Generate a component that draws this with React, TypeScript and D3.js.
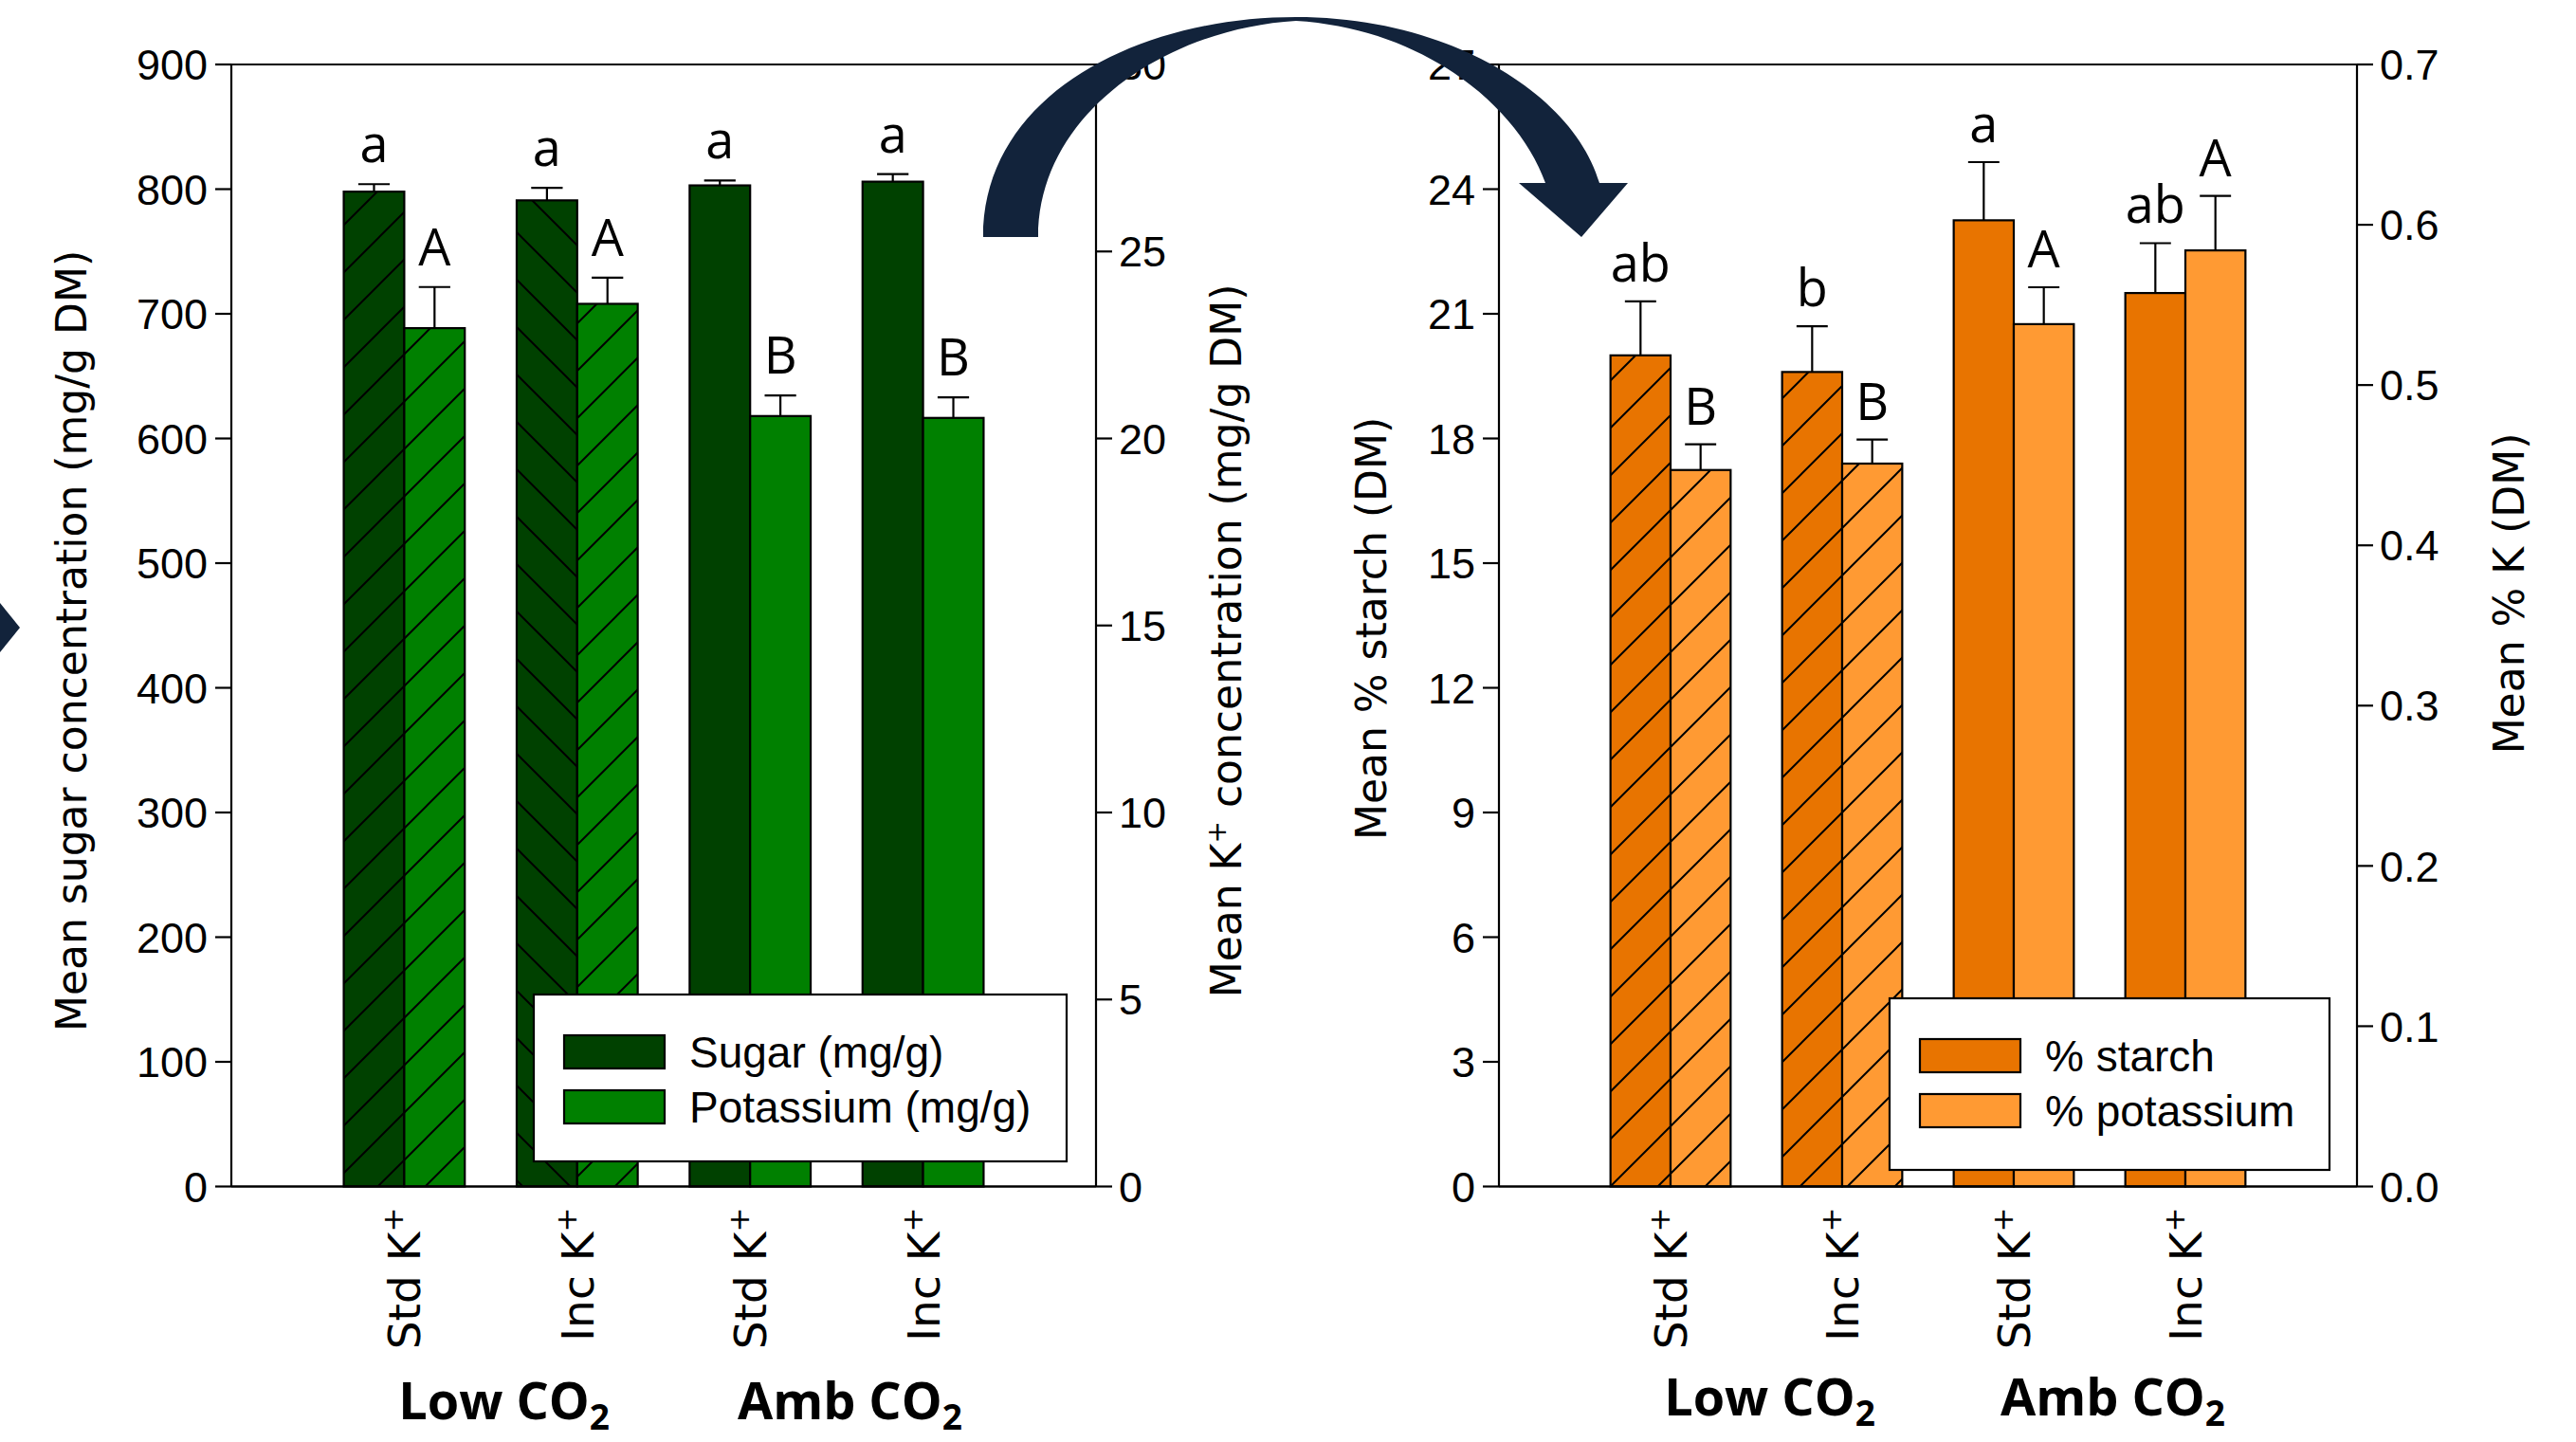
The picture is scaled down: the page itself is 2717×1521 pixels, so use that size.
import * as d3 from "d3";

const W = 2717;
const H = 1521;

const treatments = ["Std K", "Inc K", "Std K", "Inc K"];
const co2Levels = ["Low CO", "Amb CO"];

// left panel: sugar (left axis) and potassium mg/g (right axis)
const sugarMg = [798, 791, 803, 806];
const sugarErr = [6, 10, 4, 6];
const sugarLetters = ["a", "a", "a", "a"];
const potassiumMg = [22.95, 23.6, 20.6, 20.55];
const potassiumMgErr = [1.1, 0.7, 0.55, 0.55];
const potassiumMgLetters = ["A", "A", "B", "B"];

// right panel: % starch (left axis) and % K (right axis)
const starchPct = [20.0, 19.6, 23.25, 21.5];
const starchErr = [1.3, 1.1, 1.4, 1.2];
const starchLetters = ["ab", "b", "a", "ab"];
const potassiumPct = [0.447, 0.451, 0.538, 0.584];
const potassiumPctErr = [0.016, 0.015, 0.023, 0.034];
const potassiumPctLetters = ["B", "B", "A", "A"];

const sugarTicks = [0, 100, 200, 300, 400, 500, 600, 700, 800, 900];
const potassiumMgTicks = [0, 5, 10, 15, 20, 25, 30];
const starchTicks = [0, 3, 6, 9, 12, 15, 18, 21, 24, 27];
const potassiumPctTicks = [0, 0.1, 0.2, 0.3, 0.4, 0.5, 0.6, 0.7];

// low CO2 plants are hatched
const sugarHatch = ["fwd", "back", "none", "none"];
const potassiumMgHatch = ["fwd", "fwd", "none", "none"];
const starchHatch = ["fwd", "fwd", "none", "none"];
const potassiumPctHatch = ["fwd", "fwd", "none", "none"];

const ARIAL = "'Liberation Sans', Arial, sans-serif";
const VERDANA = "'DejaVu Sans', Verdana, sans-serif";
const CALIBRI = "'Open Sans', Calibri, sans-serif";
const NAVY = "#12233b";

type Series = {
    values: number[];
    errs: number[];
    letters: string[];
    hatch: string[];
    color: string;
    name: string;
};

type PanelProps = {
    x0: number;
    x1: number;
    yTop: number;
    yBottom: number;
    leftDomain: [number, number];
    rightDomain: [number, number];
    leftTicks: number[];
    rightTicks: number[];
    leftFmt: (d: number) => string;
    rightFmt: (d: number) => string;
    a: Series;
    b: Series;
    letterGap: number;
    leftTitle: React.ReactNode;
    rightTitle: React.ReactNode;
    leftTitlePos: [number, number];
    rightTitlePos: [number, number];
    legendBox: [number, number, number, number];
    groupBaseline: number;
};

const Panel = (p: PanelProps) => {
    const x = d3.scaleLinear().domain([0, 5]).range([p.x0, p.x1]);
    const yL = d3.scaleLinear().domain(p.leftDomain).range([p.yBottom, p.yTop]);
    const yR = d3.scaleLinear().domain(p.rightDomain).range([p.yBottom, p.yTop]);
    const bw = (x(1) - x(0)) * 0.35;
    const capW = bw * 0.52;

    const bars = (s: Series, y: d3.ScaleLinear<number, number>, side: number) =>
        s.values.map((v, i) => {
            const cx = x(i + 1);
            const bx = side === 0 ? cx - bw : cx;
            const top = y(v);
            const errTop = y(v + s.errs[i]);
            const mid = bx + bw / 2;
            return (
                <g key={s.name + i}>
                    <rect x={bx} y={top} width={bw} height={p.yBottom - top} fill={s.color} />
                    {s.hatch[i] !== "none" && (
                        <rect x={bx} y={top} width={bw} height={p.yBottom - top} fill={`url(#hatch-${s.hatch[i]})`} />
                    )}
                    <rect x={bx} y={top} width={bw} height={p.yBottom - top} fill="none" stroke="black" strokeWidth={2.2} />
                    <line x1={mid} x2={mid} y1={top} y2={errTop} stroke="black" strokeWidth={2.2} />
                    <line x1={mid - capW / 2} x2={mid + capW / 2} y1={errTop} y2={errTop} stroke="black" strokeWidth={2.2} />
                    <text x={mid} y={errTop - p.letterGap} textAnchor="middle" fontFamily={CALIBRI} fontSize={54}>
                        {s.letters[i]}
                    </text>
                </g>
            );
        });

    const [lx, ly, lw, lh] = p.legendBox;
    const swX = lx + 32;
    const swW = 106;
    const swH = 35;

    return (
        <g>
            {bars(p.a, yL, 0)}
            {bars(p.b, yR, 1)}

            {/* frame */}
            <line x1={p.x0} x2={p.x1} y1={p.yTop} y2={p.yTop} stroke="black" strokeWidth={2.2} />
            <line x1={p.x0} x2={p.x1} y1={p.yBottom} y2={p.yBottom} stroke="black" strokeWidth={2.5} />
            <line x1={p.x0} x2={p.x0} y1={p.yTop} y2={p.yBottom} stroke="black" strokeWidth={2.2} />
            <line x1={p.x1} x2={p.x1} y1={p.yTop} y2={p.yBottom} stroke="black" strokeWidth={2.2} />

            {p.leftTicks.map((t) => (
                <g key={"l" + t}>
                    <line x1={p.x0 - 17} x2={p.x0} y1={yL(t)} y2={yL(t)} stroke="black" strokeWidth={2.2} />
                    <text x={p.x0 - 25} y={yL(t)} dy="0.36em" textAnchor="end" fontFamily={ARIAL} fontSize={45}>
                        {p.leftFmt(t)}
                    </text>
                </g>
            ))}
            {p.rightTicks.map((t) => (
                <g key={"r" + t}>
                    <line x1={p.x1} x2={p.x1 + 17} y1={yR(t)} y2={yR(t)} stroke="black" strokeWidth={2.2} />
                    <text x={p.x1 + 24} y={yR(t)} dy="0.36em" textAnchor="start" fontFamily={ARIAL} fontSize={45}>
                        {p.rightFmt(t)}
                    </text>
                </g>
            ))}

            {/* rotated treatment labels */}
            {treatments.map((t, i) => (
                <text
                    key={"t" + i}
                    transform={`translate(${x(i + 1)}, ${p.yBottom + 22}) rotate(-90)`}
                    dy="0.36em"
                    textAnchor="end"
                    fontFamily={VERDANA}
                    fontSize={47}
                >
                    {t}
                    <tspan dy={-18} fontSize={31}>+</tspan>
                </text>
            ))}

            {co2Levels.map((c, g) => (
                <text
                    key={"c" + g}
                    x={(x(2 * g + 1) + x(2 * g + 2)) / 2 + 14}
                    y={p.groupBaseline}
                    textAnchor="middle"
                    fontFamily={CALIBRI}
                    fontWeight="bold"
                    fontSize={54}
                >
                    {c}
                    <tspan dy={11} fontSize={37}>2</tspan>
                </text>
            ))}

            <text
                transform={`translate(${p.leftTitlePos[0]}, ${p.leftTitlePos[1]}) rotate(-90)`}
                textAnchor="middle"
                fontFamily={VERDANA}
                fontSize={44}
            >
                {p.leftTitle}
            </text>
            <text
                transform={`translate(${p.rightTitlePos[0]}, ${p.rightTitlePos[1]}) rotate(-90)`}
                textAnchor="middle"
                fontFamily={VERDANA}
                fontSize={44}
            >
                {p.rightTitle}
            </text>

            {/* legend */}
            <rect x={lx} y={ly} width={lw} height={lh} fill="white" stroke="black" strokeWidth={2.2} />
            {[p.a, p.b].map((s, k) => {
                const sy = ly + 43 + k * 58;
                return (
                    <g key={"lg" + k}>
                        <rect x={swX} y={sy} width={swW} height={swH} fill={s.color} stroke="black" strokeWidth={2.2} />
                        <text x={swX + swW + 26} y={sy + swH / 2 + 16} fontFamily={ARIAL} fontSize={46}>
                            {s.name}
                        </text>
                    </g>
                );
            })}
        </g>
    );
};

export default function App() {
    const f0 = d3.format("d");
    const f1 = d3.format(".1f");
    return (
        <svg width={W} height={H} style={{ position: "absolute", left: 0, top: 0, background: "white" }}>
            <defs>
                <pattern id="hatch-fwd" patternUnits="userSpaceOnUse" width={50} height={50}>
                    <path d="M0,50 L50,0 M-10,10 L10,-10 M40,60 L60,40" stroke="black" strokeWidth={2} />
                </pattern>
                <pattern id="hatch-back" patternUnits="userSpaceOnUse" width={50} height={50}>
                    <path d="M0,0 L50,50 M-10,40 L10,60 M40,-10 L60,10" stroke="black" strokeWidth={2} />
                </pattern>
            </defs>
            <rect width={W} height={H} fill="white" />

            <Panel
                x0={244}
                x1={1156}
                yTop={68}
                yBottom={1251.5}
                leftDomain={[0, 900]}
                rightDomain={[0, 30]}
                leftTicks={sugarTicks}
                rightTicks={potassiumMgTicks}
                leftFmt={f0}
                rightFmt={f0}
                a={{ values: sugarMg, errs: sugarErr, letters: sugarLetters, hatch: sugarHatch, color: "#004100", name: "Sugar (mg/g)" }}
                b={{ values: potassiumMg, errs: potassiumMgErr, letters: potassiumMgLetters, hatch: potassiumMgHatch, color: "#008000", name: "Potassium (mg/g)" }}
                letterGap={23}
                leftTitle="Mean sugar concentration (mg/g DM)"
                rightTitle={
                    <>
                        Mean K<tspan dy={-16} fontSize={28}>+</tspan>
                        <tspan dy={16}> concentration (mg/g DM)</tspan>
                    </>
                }
                leftTitlePos={[91, 676]}
                rightTitlePos={[1309, 676]}
                legendBox={[563, 1049, 562, 176]}
                groupBaseline={1497}
            />

            <Panel
                x0={1581}
                x1={2486}
                yTop={68}
                yBottom={1251.5}
                leftDomain={[0, 27]}
                rightDomain={[0, 0.7]}
                leftTicks={starchTicks}
                rightTicks={potassiumPctTicks}
                leftFmt={f0}
                rightFmt={f1}
                a={{ values: starchPct, errs: starchErr, letters: starchLetters, hatch: starchHatch, color: "#e87400", name: "% starch" }}
                b={{ values: potassiumPct, errs: potassiumPctErr, letters: potassiumPctLetters, hatch: potassiumPctHatch, color: "#ff9a33", name: "% potassium" }}
                letterGap={21}
                leftTitle="Mean % starch (DM)"
                rightTitle="Mean % K (DM)"
                leftTitlePos={[1462, 663]}
                rightTitlePos={[2662, 626]}
                legendBox={[1993, 1053, 464, 181]}
                groupBaseline={1493}
            />

            {/* curved arrow between panels */}
            <path
                d="M1037,250 C1037,100 1200,18 1367,18 C1530,18 1660,100 1687,193 L1717,193 L1668,250 L1602,193 L1630,193 C1600,110 1500,30 1367,22 C1230,30 1095,120 1095,250 Z"
                fill={NAVY}
            />
            {/* tip of the arrow coming from the previous panel */}
            <path d="M0,636 L21,662 L0,688 Z" fill={NAVY} />
        </svg>
    );
}
